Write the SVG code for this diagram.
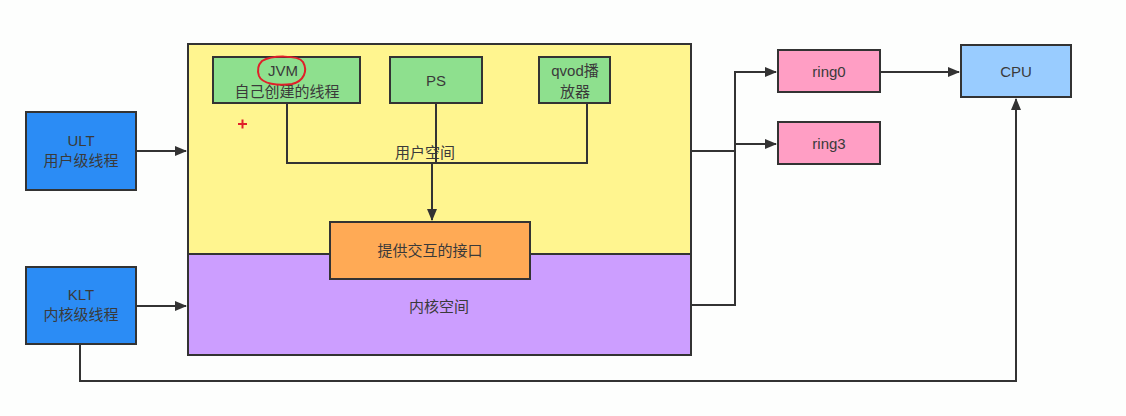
<svg xmlns="http://www.w3.org/2000/svg" width="1126" height="416" viewBox="0 0 1126 416">
<defs>
<marker id="ah" markerWidth="12" markerHeight="10" refX="11" refY="5" orient="auto" markerUnits="userSpaceOnUse">
<path d="M0,0 L12,5 L0,10 Z" fill="#333"/>
</marker>
<style>
.b{stroke:#333;stroke-width:2}
.t{font-family:"Liberation Sans","Noto Sans CJK SC",sans-serif;font-size:15px;fill:#3a3a3a;text-anchor:middle}
.c{fill:none;stroke:#333;stroke-width:2}
</style>
</defs>
<rect width="1126" height="416" fill="#fdfefd"/>
<g id="space">
<rect x="188" y="44" width="503" height="210" fill="#fff58f" class="b"/>
<rect x="188" y="254" width="503" height="101" fill="#cc9eff" class="b"/>
<text x="425" y="158" class="t">用户空间</text>
<text x="439" y="312" class="t">内核空间</text>
</g>
<g id="connectors">
<path class="c" d="M136,151 H186" marker-end="url(#ah)"/>
<path class="c" d="M136,306 H186" marker-end="url(#ah)"/>
<path class="c" d="M287,103 V163 H587 V103"/>
<path class="c" d="M436,103 V163"/>
<path class="c" d="M432,163 V220" marker-end="url(#ah)"/>
<path class="c" d="M691,151 H735"/>
<path class="c" d="M691,305 H735 V72 H776" marker-end="url(#ah)"/>
<path class="c" d="M735,144 H776" marker-end="url(#ah)"/>
<path class="c" d="M880,72 H959" marker-end="url(#ah)"/>
<path class="c" d="M80,344 V381 H1016 V99" marker-end="url(#ah)"/>
</g>
<g id="ult">
<rect x="26" y="112" width="110" height="78" fill="#2b8cf5" class="b"/>
<text x="81" y="146" class="t">ULT</text>
<text x="81" y="166" class="t">用户级线程</text>
</g>
<g id="klt">
<rect x="26" y="267" width="110" height="77" fill="#2b8cf5" class="b"/>
<text x="81" y="300" class="t">KLT</text>
<text x="81" y="320" class="t">内核级线程</text>
</g>
<g id="jvm">
<rect x="213" y="57" width="147" height="46" fill="#8ee08e" class="b"/>
<text x="283" y="76" class="t">JVM</text>
<text x="287" y="97" class="t">自己创建的线程</text>
</g>
<g id="ps">
<rect x="390" y="57" width="92" height="46" fill="#8ee08e" class="b"/>
<text x="436" y="86" class="t">PS</text>
</g>
<g id="qvod">
<rect x="539" y="57" width="71" height="46" fill="#8ee08e" class="b"/>
<text x="575" y="76" class="t">qvod播</text>
<text x="575" y="97" class="t">放器</text>
</g>
<g id="iface">
<rect x="330" y="222" width="200" height="57" fill="#ffaa55" class="b"/>
<text x="430" y="256" class="t">提供交互的接口</text>
</g>
<g id="ring0">
<rect x="778" y="50" width="102" height="42" fill="#ff9ec4" class="b"/>
<text x="829" y="77" class="t">ring0</text>
</g>
<g id="ring3">
<rect x="778" y="122" width="102" height="42" fill="#ff9ec4" class="b"/>
<text x="829" y="149" class="t">ring3</text>
</g>
<g id="cpu">
<rect x="961" y="45" width="110" height="52" fill="#99ccff" class="b"/>
<text x="1016" y="77" class="t">CPU</text>
</g>
<g id="annot">
<path d="M262,61 C272,55 298,55 303,62 C308,71 304,81 292,84 C278,86 262,84 259,76 C257,70 258,65 262,61 Z" fill="none" stroke="#e0202a" stroke-width="2"/>
<path d="M238,124 H247 M242.5,119.5 V128.5" stroke="#e0202a" stroke-width="2"/>
</g>
</svg>
